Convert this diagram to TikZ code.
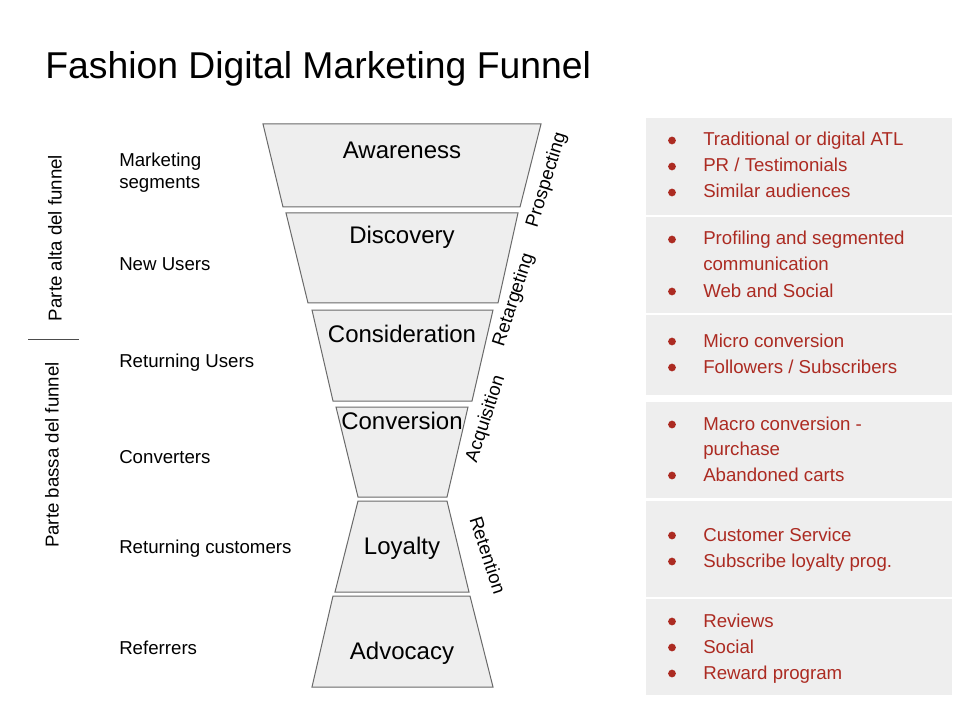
\documentclass[tikz,border=0pt]{standalone}
\usepackage{fontspec}
\setmainfont{Liberation Sans}
\definecolor{redtxt}{HTML}{AC2B22}
\definecolor{panelgray}{HTML}{EEEEEE}
\definecolor{funnelfill}{HTML}{EEEEEE}
\definecolor{edgegray}{HTML}{6A6A6A}
\newcommand\bulletitem[3]{%
  \node[item] (#1) at (703,#2) {#3};
  \node[dot] (#1d) at (672,#2-5.5) {};}
\newcommand\contitem[3]{%
  \node[item] (#1) at (703,#2) {#3};}
\begin{document}
\begin{tikzpicture}[x=0.75pt,y=-0.75pt,
  seg/.style={fill=funnelfill,draw=edgegray,line width=0.75pt,line join=miter},
  seglabel/.style={anchor=base,inner sep=0pt,font=\fontsize{18}{21}\selectfont},
  lefttxt/.style={anchor=base west,inner sep=0pt,font=\fontsize{14}{16}\selectfont},
  sidetxt/.style={inner sep=0pt,font=\fontsize{14}{16}\selectfont},
  panel/.style={fill=panelgray,draw=none},
  item/.style={anchor=base west,inner sep=0pt,text=redtxt,font=\fontsize{14}{16}\selectfont},
  dot/.style={circle,fill=redtxt,inner sep=0pt,minimum size=5.8pt}
]
\useasboundingbox (0,0) rectangle (960,720);
\fill[white] (0,0) rectangle (960,720);

% title
\node[anchor=base west,inner sep=0pt,font=\fontsize{28}{32}\selectfont] (title) at (45,79) {Fashion Digital Marketing Funnel};

% funnel segments
\draw[seg] (263,124) -- (541,124) -- (520,207) -- (283,207) -- cycle;
\draw[seg] (286,213) -- (518,213) -- (498,303) -- (308,303) -- cycle;
\draw[seg] (312,310) -- (493,310) -- (472,401) -- (333,401) -- cycle;
\draw[seg] (336,407) -- (468,407) -- (447,497) -- (358,497) -- cycle;
\draw[seg] (358,501) -- (447,501) -- (469,592) -- (335,592) -- cycle;
\draw[seg] (333,596) -- (470,596) -- (493,687) -- (312,687) -- cycle;

\node[seglabel] (aw) at (402,159) {Awareness};
\node[seglabel] (di) at (402,244) {Discovery};
\node[seglabel] (co) at (402,342) {Consideration};
\node[seglabel] (cv) at (402,429) {Conversion};
\node[seglabel] (lo) at (402,554) {Loyalty};
\node[seglabel] (ad) at (402,659) {Advocacy};

% side rotated labels
\node[sidetxt,rotate=73] (pros) at (547,180) {Prospecting};
\node[sidetxt,rotate=72] (retg) at (514,300) {Retargeting};
\node[sidetxt,rotate=72] (acq) at (486,419) {Acquisition};
\node[sidetxt,rotate=-72] (rete) at (488,555) {Retention};

% left labels
\node[lefttxt] (ms1) at (119,167) {Marketing};
\node[lefttxt] (ms2) at (119,189) {segments};
\node[lefttxt] (nu) at (119,271) {New Users};
\node[lefttxt] (ru) at (119,367) {Returning Users};
\node[lefttxt] (cvt) at (119,463) {Converters};
\node[lefttxt] (rc) at (119,553) {Returning customers};
\node[lefttxt] (ref) at (119,654) {Referrers};

% vertical labels
\node[sidetxt,rotate=90] (alta) at (55,238) {Parte alta del funnel};
\node[sidetxt,rotate=90] (bassa) at (52,455) {Parte bassa del funnel};
\coordinate (sepL) at (28,339);
\coordinate (sepR) at (79,339);
\draw[line width=0.75pt,black!70] (sepL) -- (sepR);

% right panels
\fill[panel] (645.5,118) rectangle (952,215);
\fill[panel] (645.5,217) rectangle (952,313);
\fill[panel] (645.5,315) rectangle (952,395);
\fill[panel] (645.5,402) rectangle (952,498);
\fill[panel] (645.5,501) rectangle (952,597);
\fill[panel] (645.5,599) rectangle (952,695);

% items
\bulletitem{i1}{146}{Traditional or digital ATL}
\bulletitem{i2}{172}{PR / Testimonials}
\bulletitem{i3}{198}{Similar audiences}
\bulletitem{i4}{245}{Profiling and segmented}
\contitem{i5}{271}{communication}
\bulletitem{i6}{297}{Web and Social}
\bulletitem{i7}{347}{Micro conversion}
\bulletitem{i8}{373}{Followers / Subscribers}
\bulletitem{i9}{430}{Macro conversion -}
\contitem{i10}{455}{purchase}
\bulletitem{i11}{481}{Abandoned carts}
\bulletitem{i12}{541}{Customer Service}
\bulletitem{i13}{567}{Subscribe loyalty prog.}
\bulletitem{i14}{627}{Reviews}
\bulletitem{i15}{653}{Social}
\bulletitem{i16}{679}{Reward program}
\end{tikzpicture}
\end{document}
